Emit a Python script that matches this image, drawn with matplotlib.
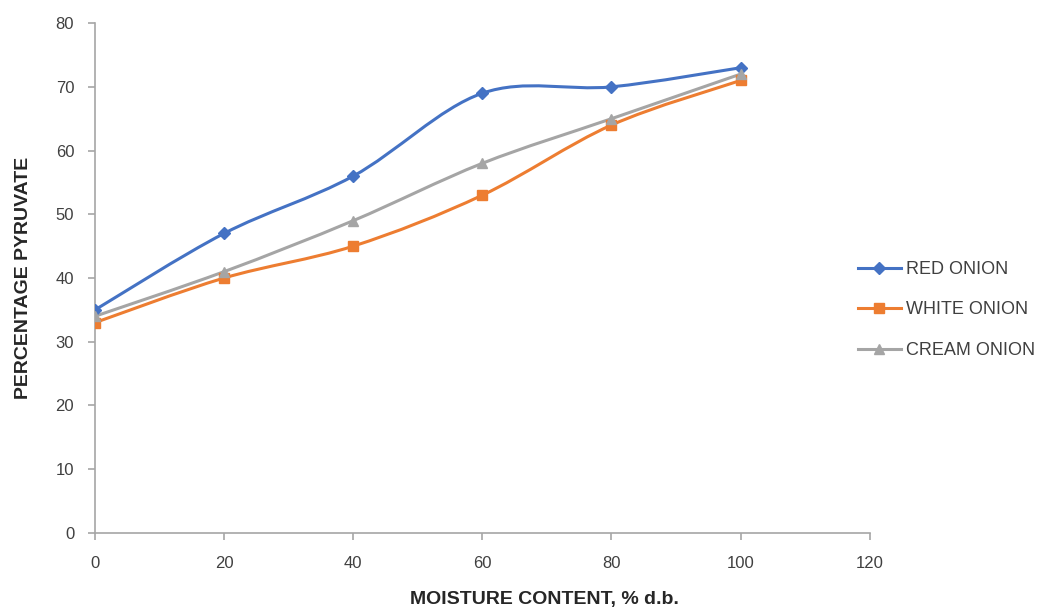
import numpy as np
import matplotlib
matplotlib.use("Agg")
import matplotlib.pyplot as plt
from matplotlib.path import Path
from matplotlib.patches import PathPatch
from matplotlib.lines import Line2D

# data
moisture = [0, 20, 40, 60, 80, 100]
red_onion = [35, 47, 56, 69, 70, 73]
white_onion = [33, 40, 45, 53, 64, 71]
cream_onion = [34, 41, 49, 58, 65, 72]

series = [
    ("RED ONION", red_onion, "#4472C4", "D", 6),
    ("WHITE ONION", white_onion, "#ED7D31", "s", 7),
    ("CREAM ONION", cream_onion, "#A5A5A5", "^", 7),
]


def smooth_path(x, y):
    # catmull-rom style bezier, like excel's smoothed line
    p = np.column_stack([x, y]).astype(float)
    pts = np.vstack([p[0], p, p[-1]])
    verts = [p[0]]
    codes = [Path.MOVETO]
    for i in range(1, len(pts) - 2):
        c1 = pts[i] + (pts[i + 1] - pts[i - 1]) / 6.0
        c2 = pts[i + 1] - (pts[i + 2] - pts[i]) / 6.0
        verts += [c1, c2, pts[i + 1]]
        codes += [Path.CURVE4] * 3
    return Path(verts, codes)


plt.rcParams['font.family'] = ['Liberation Sans', 'DejaVu Sans']

fig = plt.figure(figsize=(10.44, 6.09), dpi=100)
ax = fig.add_axes([0.091, 0.125, 0.742, 0.837])

handles = []
for name, vals, col, mk, ms in series:
    ax.add_patch(PathPatch(smooth_path(moisture, vals), facecolor="none",
                           edgecolor=col, lw=2.2, capstyle="round", zorder=2))
    ax.plot(moisture, vals, linestyle="none", marker=mk, color=col,
            markersize=ms, zorder=3)
    handles.append(Line2D([], [], color=col, lw=2.2, marker=mk, markersize=ms))

ax.set_xlim(0, 120)
ax.set_ylim(0, 80)
ax.set_xticks(range(0, 121, 20))
ax.set_yticks(range(0, 81, 10))

for s in ["top", "right"]:
    ax.spines[s].set_visible(False)
for s in ["left", "bottom"]:
    ax.spines[s].set_color("#A6A6A6")
    ax.spines[s].set_linewidth(1.2)
ax.tick_params(colors="#A6A6A6", labelcolor="#404040", labelsize=12,
               length=5, width=1.2, direction="out")
ax.tick_params(axis="x", pad=12)
ax.tick_params(axis="y", pad=10)

ax.set_xlabel("MOISTURE CONTENT, % d.b.", fontsize=14, fontweight="bold",
              color="#262626")
ax.xaxis.set_label_coords(0.58, -0.114)
ax.set_ylabel("PERCENTAGE PYRUVATE", fontsize=14, fontweight="bold",
              color="#262626", labelpad=17)

fig.legend(handles, [s[0] for s in series], loc="center left",
           bbox_to_anchor=(0.806, 0.491), frameon=False, fontsize=13,
           handlelength=2.4, handletextpad=0.3, labelspacing=1.3,
           labelcolor="#404040")

fig.savefig("out.png", dpi=100)
